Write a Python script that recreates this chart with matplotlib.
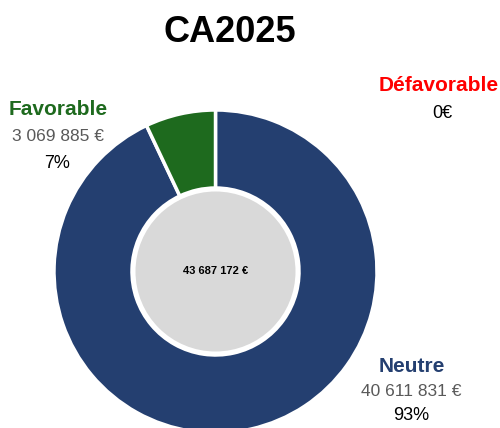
import matplotlib
matplotlib.use('Agg')
import matplotlib.pyplot as plt
from matplotlib.patches import Circle

# Donnees du graphique
categories = ['Neutre', 'Favorable', 'Défavorable']
montants = [40611831, 3069885, 0]
montants_txt = ['40 611 831 €', '3 069 885 €', '0€']
pourcentages = ['93%', '7%', '']
total_txt = '43 687 172 €'
titre = 'CA2025'

couleurs = {'Neutre': '#243F70', 'Favorable': '#1E6A1E', 'Défavorable': '#FF0000'}

plt.rcParams['font.family'] = ['Liberation Sans', 'DejaVu Sans']

W, H = 500, 428
fig = plt.figure(figsize=(W / 100, H / 100), dpi=100)
ax = fig.add_axes([0, 0, 1, 1])

# Anneau (on ignore les parts nulles)
vals = [v for v in montants if v > 0]
cols = [couleurs[c] for c, v in zip(categories, montants) if v > 0]
cx, cy = 215.5, H - 271.5
r_ext, r_int = 161.5, 83.5
ax.pie(vals, colors=cols, startangle=90, counterclock=False,
       center=(cx, cy), radius=r_ext, frame=True,
       wedgeprops=dict(width=r_ext - r_int, edgecolor='white', linewidth=2.5))

# Disque central gris
ax.add_patch(Circle((cx, cy), 80, facecolor='#D9D9D9', edgecolor='none', zorder=5))
ax.text(cx, cy, total_txt, ha='center', va='center', fontsize=8,
        fontweight='bold', color='black', zorder=6)

ax.set_xlim(0, W)
ax.set_ylim(0, H)
ax.set_aspect('equal')
ax.axis('off')

# Titre
ax.text(230, H - 32, titre, ha='center', va='center', fontsize=26,
        fontweight='bold', color='black')

# Etiquettes
# Favorable
ax.text(58, H - 109, 'Favorable', ha='center', va='center', fontsize=15,
        fontweight='bold', color=couleurs['Favorable'])
ax.text(58, H - 136, montants_txt[1], ha='center', va='center', fontsize=12.5,
        color='#595959')
ax.text(57, H - 163, pourcentages[1], ha='center', va='center', fontsize=13,
        color='black')

# Defavorable
ax.text(439, H - 85, 'Défavorable', ha='center', va='center', fontsize=15,
        fontweight='bold', color=couleurs['Défavorable'])
ax.text(442, H - 113, montants_txt[2], ha='center', va='center', fontsize=13,
        color='black')

# Neutre
ax.text(412, H - 367, 'Neutre', ha='center', va='center', fontsize=15,
        fontweight='bold', color=couleurs['Neutre'])
ax.text(411, H - 392, montants_txt[0], ha='center', va='center', fontsize=12.5,
        color='#595959')
ax.text(411, H - 415, pourcentages[0], ha='center', va='center', fontsize=13,
        color='black')

fig.savefig('out.png', dpi=100, facecolor='white')
